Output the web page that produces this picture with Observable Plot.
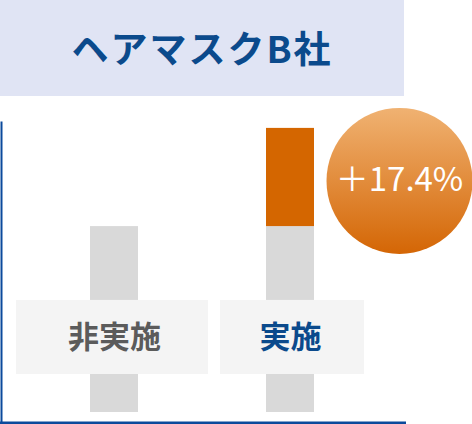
<!DOCTYPE html>
<html><head><meta charset="utf-8">
<script src="https://cdn.jsdelivr.net/npm/d3@7"></script>
<script src="https://cdn.jsdelivr.net/npm/@observablehq/plot@0.6"></script>
<style>
html,body{margin:0;padding:0;background:#fff;}
#title{width:404px;height:96px;background:#e0e4f4;color:#0b4a8c;font-family:"Noto Sans CJK JP",sans-serif;font-weight:700;font-size:37px;letter-spacing:2px;display:flex;align-items:center;justify-content:center;box-sizing:border-box;padding-bottom:2px;}
svg{display:block;}
</style>
</head><body>
<div id="title">ヘアマスクB社</div>
<div id="chart"></div>
<script>
const titleText = "ヘアマスクB社";
const categories = ["非実施", "実施"];
const baseValues = [100, 100];
const upliftValues = [0, 50];
const upliftLabel = "＋17.4%";

document.getElementById("title").textContent = titleText;

const base = categories.map((c, i) => ({cat: c, value: baseValues[i]}));
const uplift = categories.map((c, i) => ({cat: c, lo: baseValues[i], hi: baseValues[i] + upliftValues[i]})).filter(d => d.hi > d.lo);
const labelRows = categories.map((c, i) => ({cat: c, color: i === 0 ? "#5b5b5b" : "#0b4a8c"}));
const badge = uplift.map(d => ({cat: d.cat, value: d.hi, text: upliftLabel}));

const fontFamily = '"Noto Sans CJK JP", sans-serif';
const labelLo = 24.7, labelHi = 62.4, labelMid = 43.3;

const gradDefs = () => {
  const ns = "http://www.w3.org/2000/svg";
  const g = document.createElementNS(ns, "defs");
  g.innerHTML = '<linearGradient id="badgeGrad" x1="0" y1="0" x2="0" y2="1"><stop offset="0" stop-color="#f0b272"/><stop offset="1" stop-color="#d46605"/></linearGradient>';
  return g;
};

const chart = Plot.plot({
  width: 472,
  height: 328,
  marginTop: 26,
  marginBottom: 1.5,
  marginLeft: 1,
  marginRight: 68,
  x: {type: "band", domain: categories, range: [26, 378], padding: 0, axis: null},
  y: {domain: [0, 153], axis: null},
  style: {fontFamily, background: "transparent", overflow: "visible"},
  marks: [
    gradDefs,
    Plot.barY(base, {x: "cat", y: "value", fill: "#d9d9d9", insetLeft: 64, insetRight: 64, insetBottom: 10.5}),
    Plot.barY(uplift, {x: "cat", y1: "lo", y2: "hi", fill: "#d46600", insetLeft: 64, insetRight: 64}),
    Plot.barY(labelRows.filter(d => d.cat === categories[0]), {x: "cat", y1: () => labelLo, y2: () => labelHi, fill: "#f4f4f4", insetLeft: -10, insetRight: -6}),
    Plot.barY(labelRows.filter(d => d.cat === categories[1]), {x: "cat", y1: () => labelLo, y2: () => labelHi, fill: "#f4f4f4", insetLeft: 18, insetRight: 14}),
    Plot.text(labelRows, {x: "cat", y: () => labelMid, text: "cat", fill: "color", fontSize: 31, fontWeight: 700, lineAnchor: "middle", textAnchor: "middle"}),
    Plot.dot(badge, {x: "cat", y: "value", r: 73, fill: "url(#badgeGrad)", stroke: null, dx: 109, dy: 52.5}),
    Plot.text(badge, {x: "cat", y: "value", text: "text", fill: "white", fontSize: 33, fontWeight: 400, dx: 109, dy: 52.5, lineAnchor: "middle", textAnchor: "middle"}),
    Plot.frame({anchor: "left", stroke: "#0b4a9c", strokeWidth: 2, strokeOpacity: 1}),
    Plot.frame({anchor: "bottom", stroke: "#0b4a9c", strokeWidth: 3, strokeOpacity: 1})
  ]
});
document.getElementById("chart").appendChild(chart);
</script>
</body></html>
